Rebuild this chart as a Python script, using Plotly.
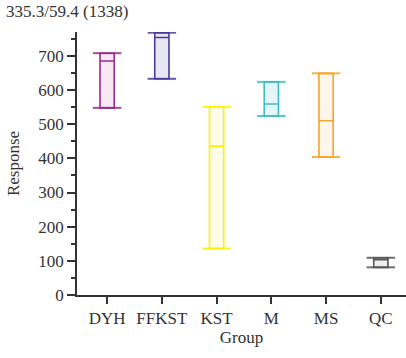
import plotly.graph_objects as go

groups = ["DYH", "FFKST", "KST", "M", "MS", "QC"]
low = [548, 633, 136, 524, 404, 81]
median = [685, 754, 436, 559, 510, 103]
high = [708, 768, 551, 624, 649, 109]
line_colors = ["#9b2a8e", "#4b3a97", "#fff200", "#3cbfbf", "#f5a52a", "#555555"]
fill_colors = ["#f6e8f2", "#e7e7f4", "#fdfde9", "#e6f5f8", "#fef6ea", "#eeeeee"]
title_text = "335.3/59.4 (1338)"

FONT = "Liberation Serif"
FS = 17
box_w = 0.26
cap_half = 0.26

fig = go.Figure()
for i, g in enumerate(groups):
    fig.add_trace(go.Box(
        x=[i], q1=[low[i]], median=[median[i]], q3=[high[i]],
        lowerfence=[low[i]], upperfence=[high[i]],
        width=box_w, fillcolor=fill_colors[i],
        line=dict(color=line_colors[i], width=1.6),
        whiskerwidth=0, showlegend=False, hoverinfo="skip", name=g,
    ))
    fig.add_trace(go.Scatter(
        x=[i - cap_half, i + cap_half, None, i - cap_half, i + cap_half],
        y=[high[i], high[i], None, low[i], low[i]],
        mode="lines", line=dict(color=line_colors[i], width=2),
        opacity=0.85, showlegend=False, hoverinfo="skip",
    ))

axis_color = "#333333"
fig.update_layout(
    width=406, height=358,
    margin=dict(l=77, r=0, t=32, b=63),
    plot_bgcolor="white", paper_bgcolor="white",
    font=dict(family=FONT, size=FS, color="#333333"),
    annotations=[dict(text=title_text, xref="paper", yref="paper", x=-73/329, y=1.0,
                      yshift=9, xanchor="left", yanchor="bottom", showarrow=False,
                      font=dict(family=FONT, size=FS, color="#333333"))],
)
fig.update_xaxes(
    range=[-0.55, 5.46], tickvals=list(range(len(groups))), ticktext=groups,
    showgrid=False, zeroline=False, showline=True, linecolor=axis_color, linewidth=1.5,
    ticks="outside", ticklen=7, tickwidth=1.5, tickcolor=axis_color,
    title=dict(text="Group", font=dict(family=FONT, size=FS), standoff=2),
    tickfont=dict(family=FONT, size=FS),
)
fig.update_yaxes(
    range=[0, 770], tickvals=list(range(0, 800, 100)),
    showgrid=False, zeroline=False, showline=True, linecolor=axis_color, linewidth=1.5,
    ticks="outside", ticklen=8, tickwidth=1.5, tickcolor=axis_color,
    minor=dict(tickvals=list(range(50, 800, 100)), ticks="outside", ticklen=4,
               tickwidth=1.5, tickcolor=axis_color),
    title=dict(text="Response", font=dict(family=FONT, size=FS), standoff=14),
    tickfont=dict(family=FONT, size=FS),
)

fig.write_html("out.html")
